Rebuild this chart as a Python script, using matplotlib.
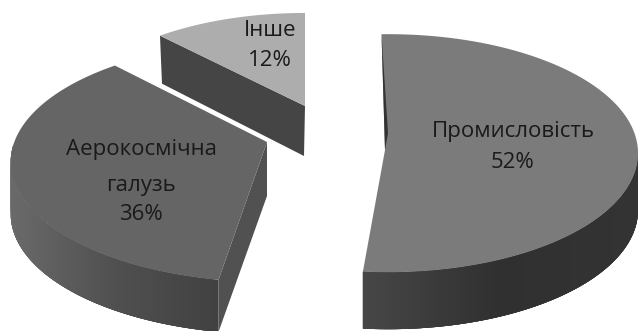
import numpy as np
import matplotlib
matplotlib.use("Agg")
import matplotlib.pyplot as plt
from matplotlib.collections import PolyCollection
from matplotlib.colors import to_rgb
from matplotlib.patches import Polygon

# Share of each sector, percent
categories = [["Промисловість"], ["Аерокосмічна", "галузь"], ["Інше"]]
shares = [52, 36, 12]

# Look of each exploded slice, in screen pixels
STYLE = [
    dict(apex=(385, 150), centre=(388, 152), rx=250, ry=119, k=0.01, rot=-1.5, depth=57,
         face="#7b7b7b", wall=("#474747", "#303030", "#333333"), cut="#454545",
         label_x=513, label_y=[131, 163]),
    dict(apex=(267, 142), centre=(269, 150), rx=257, ry=119, k=0.10, rot=3.0, depth=52,
         face="#656565", wall=("#6a6a6a", "#505050", "#414141"), cut="#515151",
         label_x=141, label_y=[150, 185, 215]),
    dict(apex=(305, 106), centre=(305, 106), rx=235, ry=107, k=0.15, rot=0.0, depth=49,
         face="#adadad", wall=("#454545", "#454545", "#454545"), cut="#454545",
         label_x=270, label_y=[31, 60]),
]

W, H = 638, 331
fig = plt.figure(figsize=(W / 100, H / 100), dpi=100)
ax = fig.add_axes([0, 0, 1, 1])
ax.set_xlim(0, W)
ax.set_ylim(H, 0)
ax.axis("off")


def rim(style, a0, a1, n=240):
    """Outer arc between two clockwise angles, measured from 12 o'clock."""
    t = np.radians(np.linspace(a0, a1, n))
    u, v = np.sin(t), np.cos(t)
    s = 1 / (1 + style["k"] * v)
    cx, cy = style["centre"]
    return t, cx + style["rx"] * u * s, cy - style["ry"] * v * s


def shade(c0, c1, c2, f):
    a, b, c = (np.array(to_rgb(col)) for col in (c0, c1, c2))
    return a + (b - a) * f * 2 if f < 0.5 else b + (c - b) * (f - 0.5) * 2


def outer_wall(style, t, x, y, z):
    """Extrude the part of the rim that faces the viewer, shaded left to right."""
    mask = np.cos(t) < 0.05
    xs, ys = x[mask], y[mask]
    d = style["depth"]
    # Each strip overlaps the next so no seams show between them
    m = len(xs)
    quads = []
    for i in range(m - 1):
        j = min(i + 4, m - 1)
        top = list(zip(xs[i:j + 1], ys[i:j + 1]))
        bottom = list(zip(xs[i:j + 1], ys[i:j + 1] + d))[::-1]
        quads.append(top + bottom)
    f = (xs[:-1] - xs.min()) / (xs.max() - xs.min())
    cols = [shade(*style["wall"], v) for v in f]
    ax.add_collection(PolyCollection(quads, facecolors=cols, edgecolors="none", zorder=z))


# Slices run clockwise from the top, each starting where the last one ended
ends = np.cumsum(shares) / np.sum(shares) * 360
starts = np.r_[0, ends[:-1]]
for z, i in enumerate([2, 1, 0]):
    st = STYLE[i]
    t, x, y = rim(st, starts[i] + st["rot"], ends[i] + st["rot"])
    px, py = st["apex"]
    d = st["depth"]
    base = 3 + 3 * z
    if i == 0:
        outer_wall(st, t, x, y, base - 1)
        # Thin sliver of the cut wall along the upper edge
        ax.add_patch(Polygon([(x[0], y[0]), (px + 3, py - 17), (px, py)],
                             fc="#333333", ec="none", zorder=base + 2))
    elif i == 1:
        outer_wall(st, t, x, y, base - 1)
        ax.add_patch(Polygon([(px, py), (x[0], y[0]), (x[0], y[0] + d), (px, py + d + 2)],
                             fc=st["cut"], ec="none", zorder=base))
    else:
        ax.add_patch(Polygon([(x[0], y[0]), (px, py), (px - 1, py + d + 1), (x[0] + 2, y[0] + d - 1)],
                             fc=st["cut"], ec="none", zorder=base))
    ax.add_patch(Polygon(np.c_[np.r_[px, x], np.r_[py, y]], fc=st["face"], ec="none",
                         zorder=base + 1))
    lines = categories[i] + [f"{shares[i]}%"]
    for line, ly in zip(lines, st["label_y"]):
        ax.text(st["label_x"], ly, line, ha="center", va="center", fontsize=16,
                family="Open Sans", color="#1a1a1a", zorder=20)

fig.savefig("out.png", dpi=100, facecolor="white")
